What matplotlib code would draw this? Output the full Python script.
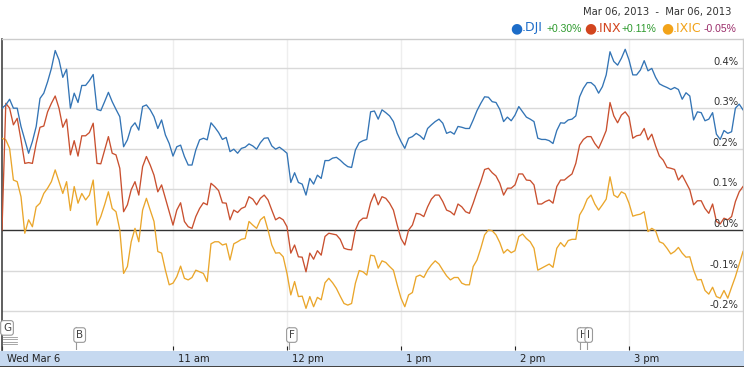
import numpy as np
import matplotlib.pyplot as plt
import matplotlib.transforms as mtransforms
from matplotlib.patches import Rectangle

# Percent change from previous close, one value every 2 minutes from 9:30 to 16:00
dji = [0.300, 0.308, 0.322, 0.300, 0.300, 0.255, 0.222, 0.189, 0.218, 0.255,
       0.324, 0.337, 0.365, 0.398, 0.442, 0.419, 0.376, 0.396, 0.300, 0.337,
       0.314, 0.356, 0.356, 0.368, 0.383, 0.297, 0.294, 0.316, 0.339, 0.316,
       0.297, 0.279, 0.205, 0.222, 0.253, 0.264, 0.246, 0.304, 0.308, 0.296,
       0.279, 0.250, 0.271, 0.234, 0.213, 0.182, 0.205, 0.209, 0.181, 0.160,
       0.160, 0.197, 0.222, 0.226, 0.222, 0.264, 0.253, 0.240, 0.223, 0.228,
       0.193, 0.199, 0.189, 0.201, 0.204, 0.212, 0.207, 0.199, 0.215, 0.226,
       0.227, 0.207, 0.199, 0.204, 0.197, 0.189, 0.117, 0.141, 0.117, 0.113,
       0.086, 0.127, 0.113, 0.135, 0.127, 0.171, 0.171, 0.177, 0.179, 0.172,
       0.163, 0.156, 0.154, 0.197, 0.215, 0.220, 0.223, 0.291, 0.293, 0.273,
       0.296, 0.289, 0.281, 0.267, 0.238, 0.218, 0.201, 0.226, 0.230, 0.238,
       0.232, 0.223, 0.250, 0.259, 0.267, 0.273, 0.263, 0.238, 0.242, 0.236,
       0.255, 0.253, 0.250, 0.250, 0.271, 0.294, 0.312, 0.328, 0.327, 0.316,
       0.314, 0.297, 0.267, 0.278, 0.269, 0.283, 0.304, 0.291, 0.278, 0.273,
       0.267, 0.226, 0.223, 0.223, 0.220, 0.213, 0.245, 0.264, 0.263, 0.271,
       0.273, 0.281, 0.328, 0.349, 0.363, 0.363, 0.355, 0.337, 0.353, 0.382,
       0.439, 0.415, 0.406, 0.423, 0.445, 0.419, 0.382, 0.382, 0.394, 0.417,
       0.392, 0.398, 0.376, 0.360, 0.355, 0.351, 0.346, 0.351, 0.346, 0.322,
       0.338, 0.330, 0.271, 0.291, 0.289, 0.269, 0.273, 0.289, 0.236, 0.223,
       0.245, 0.238, 0.242, 0.300, 0.310, 0.296]

inx = [0.000, 0.312, 0.300, 0.259, 0.275, 0.222, 0.164, 0.166, 0.164, 0.213,
       0.253, 0.256, 0.291, 0.312, 0.330, 0.300, 0.253, 0.273, 0.185, 0.220,
       0.182, 0.232, 0.232, 0.240, 0.263, 0.164, 0.163, 0.197, 0.230, 0.189,
       0.185, 0.152, 0.045, 0.062, 0.099, 0.119, 0.086, 0.156, 0.181, 0.160,
       0.135, 0.094, 0.111, 0.078, 0.045, 0.012, 0.049, 0.067, 0.021, 0.008,
       0.004, 0.033, 0.053, 0.067, 0.062, 0.115, 0.107, 0.097, 0.067, 0.066,
       0.025, 0.049, 0.043, 0.053, 0.057, 0.082, 0.076, 0.062, 0.078, 0.086,
       0.074, 0.049, 0.025, 0.031, 0.025, 0.008, -0.057, -0.037, -0.066, -0.067,
       -0.103, -0.057, -0.072, -0.051, -0.062, -0.016, -0.008, -0.010, -0.012, -0.023,
       -0.045, -0.048, -0.049, 0.000, 0.021, 0.029, 0.029, 0.067, 0.089, 0.062,
       0.082, 0.078, 0.066, 0.049, 0.012, -0.021, -0.037, 0.000, 0.012, 0.041,
       0.039, 0.033, 0.057, 0.076, 0.086, 0.086, 0.070, 0.049, 0.045, 0.037,
       0.064, 0.057, 0.045, 0.041, 0.066, 0.094, 0.119, 0.149, 0.152, 0.141,
       0.133, 0.115, 0.086, 0.103, 0.103, 0.111, 0.138, 0.138, 0.123, 0.122,
       0.111, 0.064, 0.064, 0.070, 0.074, 0.066, 0.107, 0.123, 0.123, 0.131,
       0.138, 0.164, 0.209, 0.223, 0.230, 0.230, 0.213, 0.201, 0.222, 0.245,
       0.314, 0.281, 0.264, 0.283, 0.291, 0.278, 0.226, 0.232, 0.234, 0.250,
       0.222, 0.236, 0.207, 0.182, 0.172, 0.154, 0.152, 0.149, 0.123, 0.135,
       0.117, 0.099, 0.062, 0.072, 0.072, 0.053, 0.041, 0.064, 0.021, 0.015,
       0.029, 0.025, 0.033, 0.070, 0.094, 0.107]

ixic = [0.226, 0.222, 0.201, 0.123, 0.119, 0.082, -0.008, 0.025, 0.008, 0.057,
        0.066, 0.090, 0.103, 0.119, 0.148, 0.119, 0.090, 0.119, 0.048, 0.107,
        0.066, 0.090, 0.074, 0.086, 0.123, 0.012, 0.033, 0.062, 0.094, 0.053,
        0.045, 0.000, -0.107, -0.090, -0.029, 0.004, -0.029, 0.049, 0.078, 0.049,
        0.021, -0.053, -0.057, -0.099, -0.135, -0.131, -0.115, -0.089, -0.119, -0.123,
        -0.117, -0.099, -0.103, -0.107, -0.127, -0.034, -0.029, -0.029, -0.037, -0.034,
        -0.074, -0.034, -0.029, -0.023, -0.021, 0.021, 0.012, 0.004, 0.025, 0.033,
        0.000, -0.037, -0.057, -0.056, -0.066, -0.107, -0.160, -0.127, -0.164, -0.163,
        -0.193, -0.164, -0.189, -0.166, -0.172, -0.130, -0.119, -0.130, -0.144, -0.163,
        -0.181, -0.185, -0.181, -0.131, -0.100, -0.103, -0.111, -0.062, -0.064, -0.094,
        -0.076, -0.080, -0.090, -0.099, -0.135, -0.168, -0.189, -0.160, -0.154, -0.115,
        -0.111, -0.117, -0.099, -0.086, -0.076, -0.084, -0.099, -0.113, -0.123, -0.117,
        -0.117, -0.131, -0.135, -0.135, -0.090, -0.074, -0.045, -0.012, 0.000, -0.002,
        -0.012, -0.031, -0.057, -0.048, -0.056, -0.051, -0.016, -0.010, -0.021, -0.029,
        -0.045, -0.099, -0.094, -0.089, -0.084, -0.092, -0.045, -0.031, -0.041, -0.026,
        -0.023, -0.023, 0.037, 0.053, 0.076, 0.086, 0.064, 0.049, 0.062, 0.076,
        0.131, 0.086, 0.080, 0.094, 0.089, 0.066, 0.034, 0.037, 0.039, 0.045,
        -0.004, 0.004, -0.002, -0.029, -0.033, -0.045, -0.059, -0.053, -0.043, -0.057,
        -0.067, -0.066, -0.099, -0.123, -0.122, -0.149, -0.158, -0.141, -0.164, -0.168,
        -0.149, -0.168, -0.141, -0.115, -0.084, -0.053]

minutes = np.arange(len(dji)) * 2  # minutes after 9:30

tick_minutes = [0, 90, 150, 210, 270, 330]
tick_labels = ['Wed Mar 6', '11 am', '12 pm', '1 pm', '2 pm', '3 pm']
y_ticks = [0.4, 0.3, 0.2, 0.1, 0.0, -0.1, -0.2]

flag_letters = ['B', 'F', 'H', 'I']
flag_minutes = [39, 151, 304, 308]

W, H = 744, 367
fig = plt.figure(figsize=(W / 100, H / 100), dpi=100)


def fx(x):
    return x / W


def fy(y):
    return 1 - y / H


# bottom time bar
fig.patches.append(Rectangle((0, 0), 1, fy(351), transform=fig.transFigure,
                             facecolor='#c6d9f0', edgecolor='none', zorder=0))
fig.patches.append(Rectangle((0, 0), 1, fy(366), transform=fig.transFigure,
                             facecolor='#444444', edgecolor='none', zorder=1))

ax = fig.add_axes([fx(2), fy(350), fx(743) - fx(2), fy(39) - fy(350)])
ax.set_zorder(3)
ax.set_xlim(0, 390)
ax.set_ylim(-0.2956, 0.4704)
ax.set_facecolor('white')

for v in y_ticks:
    if v == 0:
        ax.axhline(v, color='#333333', lw=1.0, zorder=3)
    else:
        ax.axhline(v, color='#d9d9d9', lw=1.0, zorder=1)
    ax.annotate('%.1f%%' % v, xy=(1, v), xycoords=('axes fraction', 'data'),
                xytext=(-5, 1), textcoords='offset pixels', ha='right', va='bottom',
                fontsize=7.2, color='#333333', zorder=5)
for m in tick_minutes[1:]:
    ax.axvline(m, color='#eeeeee', lw=1.0, zorder=0)

ax.plot(minutes, ixic, color='#eaa62b', lw=0.95, zorder=4)
ax.plot(minutes, inx, color='#c9502f', lw=0.95, zorder=4)
ax.plot(minutes, dji, color='#3374b5', lw=0.95, zorder=4)

ax.set_yticks([])
ax.set_xticks(tick_minutes)
ax.set_xticklabels([])
ax.tick_params(axis='x', direction='in', length=3, width=0.8, color='#222222')
for m, lab in zip(tick_minutes, tick_labels):
    ax.annotate(lab, xy=(m, 0), xycoords=('data', 'axes fraction'),
                xytext=(5, -9), textcoords='offset pixels', ha='left', va='center',
                fontsize=7.2, color='#222222', annotation_clip=False)

for side in ['top', 'right']:
    ax.spines[side].set_color('#cccccc')
    ax.spines[side].set_linewidth(1.0)
ax.spines['left'].set_color('#444444')
ax.spines['left'].set_linewidth(1.2)
ax.spines['bottom'].set_visible(False)

# event flags
blend = mtransforms.blended_transform_factory(ax.transData, ax.transAxes)
for letter, m in zip(flag_letters, flag_minutes):
    ax.plot([m, m], [0, 0.075], transform=blend, color='#999999', lw=0.8, zorder=5)
    ax.text(m, 0.032, letter, transform=blend, ha='left', va='bottom', fontsize=7.5,
            color='#444444', zorder=6,
            bbox=dict(boxstyle='round,pad=0.22,rounding_size=0.25', fc='white',
                      ec='#999999', lw=0.8))
for k in range(4):
    ax.plot([0.5, 8], [0.018 + k * 0.008] * 2, transform=blend, color='#999999',
            lw=0.6, zorder=5)
ax.text(0.5, 0.055, 'G', transform=blend, ha='left', va='bottom', fontsize=7.5,
        color='#444444', zorder=6,
        bbox=dict(boxstyle='round,pad=0.22,rounding_size=0.25', fc='white',
                  ec='#999999', lw=0.8))

# header and legend
fig.text(fx(731), fy(12), 'Mar 06, 2013  -  Mar 06, 2013', ha='right', va='center',
         fontsize=7.2, color='#333333')
legend = [('.DJI', '+0.30%', '#1c6cc8', '#2d9a2d', 516),
          ('.INX', '+0.11%', '#d2451e', '#2d9a2d', 590),
          ('.IXIC', '-0.05%', '#f2a31a', '#9b2d6a', 667)]
name_dx = {'.DJI': 31, '.INX': 32, '.IXIC': 37}
for name, change, col, ccol, xd in legend:
    fig.text(fx(xd), fy(28), '\u25cf', ha='center', va='center', fontsize=10, color=col)
    fig.text(fx(xd + 6), fy(28), name, ha='left', va='center', fontsize=9,
             family='Liberation Sans Narrow', color=col)
    fig.text(fx(xd + name_dx[name]), fy(28.5), change, ha='left', va='center',
             fontsize=7.5, family='Liberation Sans', color=ccol)

fig.savefig('out.png', dpi=100)
